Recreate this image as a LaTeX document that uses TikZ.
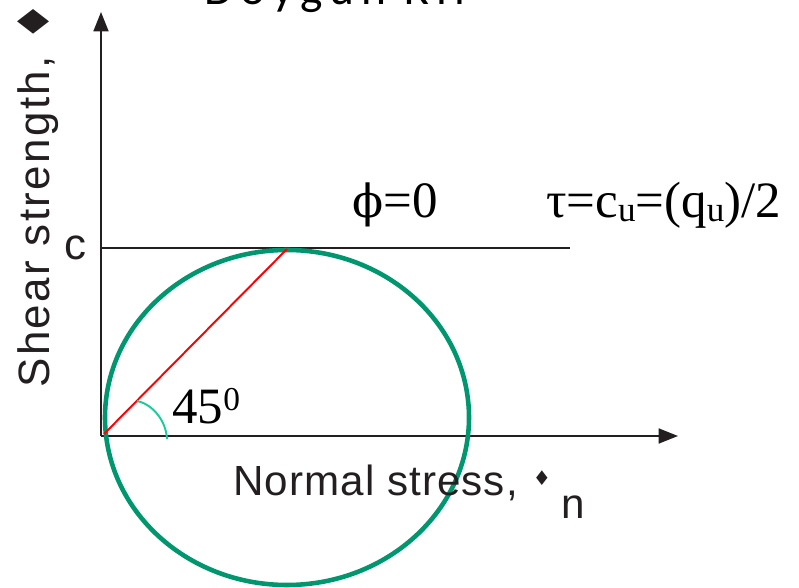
\documentclass[tikz,border=0pt]{standalone}
\usepackage{fontspec}
\setmainfont{Liberation Serif}
\setsansfont{Liberation Sans}
\newfontfamily\titlefont[LetterSpace=15]{Carlito}
\newfontfamily\symfont{DejaVu Sans}
\newfontfamily\greekfont{DejaVu Serif}
\newfontfamily\xaxisfont[LetterSpace=2.5]{Liberation Sans}
\newfontfamily\yaxisfont[LetterSpace=5.5]{Liberation Sans}
\usetikzlibrary{arrows.meta,positioning}
\definecolor{inkline}{RGB}{35,31,32}
\definecolor{mohrgreen}{RGB}{0,150,110}
\definecolor{anglegreen}{RGB}{25,205,155}
\tikzset{
  axisline/.style={-{Triangle[length=11pt,width=8.5pt]}, line width=1.1pt, draw=inkline},
  envline/.style={line width=1.1pt, draw=inkline},
  mohrcircle/.style={draw=mohrgreen, line width=2.6pt},
  poleline/.style={red, line width=1.1pt},
  anglearc/.style={anglegreen, line width=1.1pt},
  sanslabel/.style={font=\sffamily\fontsize{25}{25}\selectfont, inner sep=0, text=inkline},
  serlabel/.style={font=\fontsize{29}{29}\selectfont, inner sep=0, anchor=base west}
}
\newcommand{\subu}{\raisebox{-2pt}{\fontsize{20}{20}\selectfont u}}

\begin{document}
\begin{tikzpicture}[x=0.02cm, y=-0.02cm]
\useasboundingbox (0,0) rectangle (799,588);
\clip (0,0) rectangle (799,588);
% axes and strength line
\coordinate (origin) at (101,436);
\coordinate (ytip) at (101,12);
\coordinate (xtip) at (678,436);
\coordinate (cleft) at (101,248);
\coordinate (cright) at (570,248);
\draw[axisline] (origin) -- (ytip);
\draw[axisline] (origin) -- (xtip);
\draw[envline] (cleft) -- (cright);
% Mohr circle
\draw[mohrcircle] (287,417.5) ellipse [x radius=182, y radius=167.5];
\coordinate (pole) at (104,434);
\coordinate (ctop) at (287,249);
\draw[poleline] (pole) -- (ctop);
\coordinate (arcstart) at (137,401);
\coordinate (arcend) at (167,439);
\draw[anglearc] (arcstart) .. controls (152,404) and (166,420) .. (arcend);
% labels
\node[font=\titlefont\fontsize{27}{27}\selectfont, anchor=base west, inner sep=0] (title) at (204,5) {Doygun Kil};
\node[sanslabel, font=\yaxisfont\fontsize{25}{25}\selectfont, rotate=90, anchor=base west] (ylabel) at (50,388) {Shear strength, {\symfont ♦}};
\node[sanslabel, anchor=base] (clabel) at (75,260) {c};
\node[sanslabel, font=\xaxisfont\fontsize{24}{24}\selectfont, anchor=base west] (xlabel) at (233,495) {Normal stress,};
\node[inner sep=0, text=inkline, font=\symfont\fontsize{11.5}{11.5}\selectfont] (sigmark) at (542,478) {♦};
\node[sanslabel, font=\sffamily\fontsize{24}{24}\selectfont, anchor=base west] (sub) at (561,518) {n};
\node[serlabel] (philabel) at (352,218) {{\greekfont\fontsize{26}{26}\selectfont ϕ}=0};
\node[serlabel] (taulabel) at (546,218) {τ=c\subu=(q\subu)/2};
\node[serlabel] (anglabel) at (172,423) {45\raisebox{7.4pt}{\fontsize{19}{19}\selectfont 0}};
\end{tikzpicture}
\end{document}
